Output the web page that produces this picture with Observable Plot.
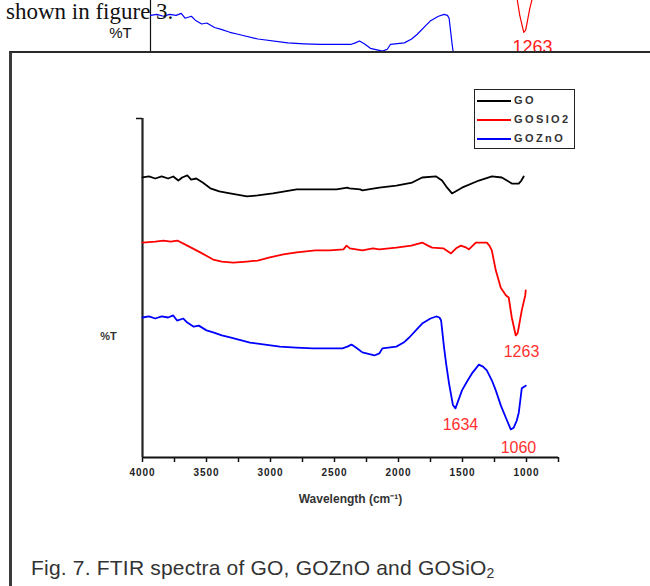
<!DOCTYPE html>
<html><head><meta charset="utf-8">
<script src="https://cdn.jsdelivr.net/npm/d3@7"></script>
<script src="https://cdn.jsdelivr.net/npm/@observablehq/plot@0.6"></script>
<style>
html,body{margin:0;padding:0;background:#fff;}
#page{position:relative;width:650px;height:586px;overflow:hidden;background:#fff;font-family:'Liberation Sans',Arial,sans-serif;}
#prev{position:absolute;left:0;top:0;width:650px;height:52px;overflow:hidden;}
#lead{position:absolute;left:6px;top:0px;font:23px/23px 'Liberation Serif','Times New Roman',serif;color:#111;white-space:nowrap;}
#box{position:absolute;left:9px;top:51px;width:680px;height:600px;border-left:3px solid #3a3a3a;border-top:2px solid #2a2a2a;background:#fff;}
#main{position:absolute;left:0;top:0;}
#legend{position:absolute;left:474px;top:89px;width:99px;height:58px;border:1.5px solid #222;background:#fff;}
.row{position:absolute;left:2px;height:12px;}
.sw{position:absolute;left:0;top:5px;width:34px;height:2px;}
.lt{position:absolute;left:37px;top:-1px;font:bold 11px/12px 'Liberation Sans',Arial,sans-serif;letter-spacing:2.4px;color:#333;white-space:nowrap;}
#caption{position:absolute;left:31px;top:556px;font:21px/24px 'Liberation Sans',Arial,sans-serif;color:#333;white-space:nowrap;letter-spacing:0.2px;}
#caption .sub{font-size:14px;position:relative;top:3px;}
g[aria-label="x-axis tick label"] text{letter-spacing:1px;}
g[aria-label="peak labels"] text{letter-spacing:2px;}
g[aria-label="y title"] text{letter-spacing:2px;}
g[aria-label="x title"] text{letter-spacing:2.8px;}
g[aria-label="prev peak"] text{letter-spacing:1.5px;}
</style></head>
<body><div id="page">
<div id="prev"></div>
<div id="lead">shown in figure 3.</div>
<div id="box"></div>
<div id="main"></div>
<div id="legend"></div>
<div id="caption"></div>
</div>
<script>
// ---- data (wavenumber cm-1, %T in arbitrary units) ----
const series = ["GO", "GOSIO2", "GOZnO"];
const seriesColors = ["#000000", "#ff0000", "#0000ff"];

const goWn = [4000,3950,3900,3850,3800,3760,3720,3690,3650,3620,3580,3530,3470,3400,3316,3184,3100,2981,2795,2600,2484,2400,2383,2300,2282,2150,2017,1893,1815,1706,1660,1620,1582,1504,1372,1270,1193,1140,1115,1061,1040,1022];
const goT  = [82.6,82.9,82.3,82.9,82.3,82.9,81.7,82.6,83.2,82.0,82.3,81.1,79.4,78.5,77.9,77.0,77.3,77.9,79.1,79.1,79.1,79.6,79.4,79.1,78.8,79.6,80.2,81.1,82.6,82.9,81.7,79.6,77.9,79.6,81.7,82.9,82.6,81.4,80.8,80.8,81.7,82.9];

const siWn = [4000,3900,3837,3780,3728,3650,3549,3448,3380,3292,3184,3100,3005,2900,2795,2650,2538,2430,2406,2380,2282,2200,2150,2017,1900,1815,1770,1737,1650,1590,1550,1512,1470,1450,1420,1396,1310,1290,1271,1240,1201,1160,1139,1115,1084,1070,1061,1037,1010,1006];
const siT  = [63.4,63.7,64.0,63.7,64.0,62.5,60.5,58.4,57.8,57.5,57.8,58.1,59.0,59.9,60.5,61.1,61.1,61.4,62.5,61.7,61.1,61.7,61.4,61.9,62.5,63.4,62.5,61.9,61.7,60.2,61.7,62.5,61.9,61.4,62.5,63.4,63.4,62.5,61.1,55.2,50.1,47.8,47.2,41.3,36.0,36.6,38.3,43.4,47.8,49.3];

const znWn = [4000,3950,3900,3850,3800,3760,3730,3681,3650,3600,3560,3500,3448,3380,3316,3160,2927,2800,2670,2437,2400,2367,2330,2282,2188,2150,2126,2017,1960,1916,1850,1815,1750,1706,1680,1667,1644,1628,1605,1575,1555,1504,1460,1426,1372,1340,1310,1270,1240,1200,1162,1123,1100,1076,1060,1037,1006];
const znT  = [41.3,41.6,41.0,41.6,41.3,41.9,40.4,41.0,39.8,38.6,38.9,37.5,36.9,36.0,35.4,33.9,32.7,32.4,32.2,32.2,32.7,33.3,32.4,31.0,30.1,30.7,32.2,32.7,33.9,35.4,38.1,39.5,41.0,41.6,41.3,40.4,32.4,27.7,21.8,15.5,14.5,19.8,22.7,24.8,27.4,26.8,25.7,22.7,19.8,15.3,11.8,8.3,8.8,10.9,13.3,20.4,21.2];

const xTicksAll = [4000,3750,3500,3250,3000,2750,2500,2250,2000,1750,1500,1250,1000,750];
const xTickLabels = ["4000","3500","3000","2500","2000","1500","1000"];
const xTitle = "Wavelength (cm\u207B\u00B9)";
const yTitle = "%T";
const peakLabels = ["1263", "1634", "1060"];
const peakLabelWn = [1039, 1516, 1063];
const peakLabelT = [31.3, 9.7, 2.9];
const captionMain = "Fig. 7. FTIR spectra of GO, GOZnO and GOSiO";
const captionSub = "2";
const leadText = "shown in figure 3.";

// ---- build tables ----
const rows = [];
[[goWn, goT], [siWn, siT], [znWn, znT]].forEach(([w, t], i) => {
  w.forEach((wn, j) => rows.push({series: series[i], wn, t: t[j]}));
});
const peaks = peakLabels.map((label, i) => ({label, wn: peakLabelWn[i], t: peakLabelT[i]}));
const fontFam = "'Liberation Sans', Arial, sans-serif";

// ---- main chart ----
const main = Plot.plot({
  width: 650, height: 586,
  marginLeft: 142, marginRight: 92, marginTop: 118, marginBottom: 129,
  style: {background: "transparent", fontFamily: fontFam, color: "#222", overflow: "visible"},
  x: {domain: [4000, 750], label: null},
  y: {domain: [0, 100], label: null},
  color: {domain: series, range: seriesColors},
  marks: [
    Plot.axisX(xTicksAll, {tickSize: 5, tickPadding: 6, strokeWidth: 1.5, stroke: "#111",
      tickFormat: d => xTickLabels.includes(String(d)) ? String(d) : "",
      fontSize: 10, fontWeight: "bold", fill: "#222", label: null}),
    Plot.axisY([100], {tickSize: 6, strokeWidth: 1.5, stroke: "#111", tickFormat: () => "", label: null}),
    Plot.ruleY([0], {stroke: "#111", strokeWidth: 2}),
    Plot.ruleX([4000], {stroke: "#222", strokeWidth: 2.2}),
    Plot.line(rows, {x: "wn", y: "t", z: "series", stroke: "series", strokeWidth: 1.8, curve: "linear"}),
    Plot.text(peaks, {x: "wn", y: "t", text: "label", fill: "#ff3030", fontSize: 16, ariaLabel: "peak labels"}),
    Plot.text([yTitle], {x: 4000, y: 35.7, dx: -34, fontSize: 11, fontWeight: "bold", fill: "#333", ariaLabel: "y title"}),
    Plot.text([xTitle], {frameAnchor: "bottom", dy: 45, fontSize: 12, fontWeight: "bold", fill: "#333", ariaLabel: "x title"})
  ]
});
document.getElementById("main").appendChild(main);

// ---- partial previous figure at the very top (clipped by the page box) ----
const prev = Plot.plot({
  width: 650, height: 52,
  marginLeft: 150, marginRight: 84, marginTop: 0, marginBottom: 0,
  style: {background: "transparent", fontFamily: fontFam, overflow: "hidden"},
  x: {domain: [4000, 750]},
  y: {domain: [0, 100], range: [147, -173]},
  axis: null,
  color: {domain: series, range: seriesColors},
  marks: [
    Plot.ruleX([4000], {stroke: "#111", strokeWidth: 1.2}),
    Plot.line(rows.filter(d => d.series !== "GO"), {x: "wn", y: "t", z: "series", stroke: "series", strokeWidth: 1.2}),
    Plot.text([yTitle], {x: 4000, y: 35.6, dx: -30, fontSize: 15, fill: "#111"}),
    Plot.text([peakLabels[0]], {x: 1016, y: 31.3, fontSize: 18, fill: "#ff1a1a", ariaLabel: "prev peak"})
  ]
});
document.getElementById("prev").appendChild(prev);

// ---- legend ----
const legend = document.getElementById("legend");
series.forEach((s, i) => {
  const r = document.createElement("div");
  r.className = "row";
  r.style.top = (5 + i * 19) + "px";
  const sw = document.createElement("div");
  sw.className = "sw"; sw.style.background = seriesColors[i];
  const lt = document.createElement("div");
  lt.className = "lt"; lt.textContent = s;
  r.appendChild(sw); r.appendChild(lt);
  legend.appendChild(r);
});

// ---- caption ----
const cap = document.getElementById("caption");
cap.textContent = captionMain;
const sub = document.createElement("span");
sub.className = "sub"; sub.textContent = captionSub;
cap.appendChild(sub);
document.getElementById("lead").textContent = leadText;
</script>
</body></html>
